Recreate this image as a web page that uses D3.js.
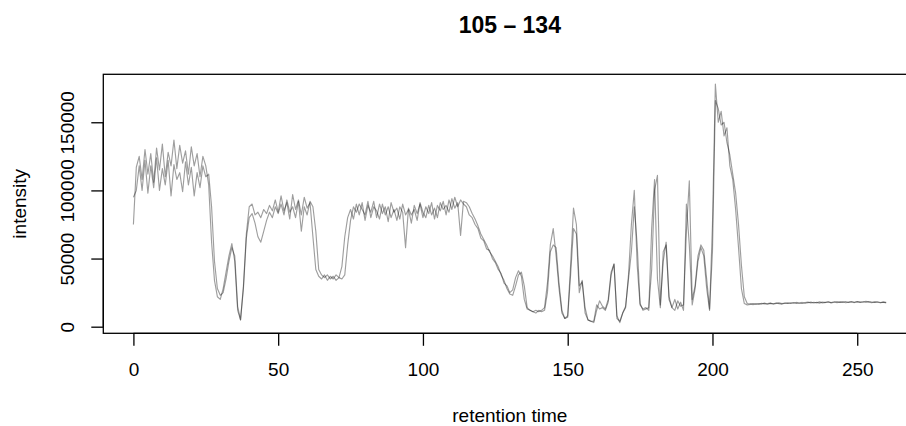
<!DOCTYPE html>
<meta charset="utf-8">
<script src="https://d3js.org/d3.v7.min.js"></script>
<style>
  body { margin: 0; background: #fff; }
  text { font-family: "Liberation Sans", Arial, sans-serif; }
</style>
<div id="chart"></div>
<script>

// retention time runs 0..260, one sample per unit
var rtStart = 0, rtEnd = 260;

// intensity of the two overlaid chromatograms
var traceA = [
  75000,117000,125000,108000,130000,112000,127000,106000,131000,115000,
  134000,110000,128000,118000,137000,116000,133000,120000,129000,112000,
  132000,118000,127000,110000,125000,118000,104000,62000,34000,22000,
  20000,28000,40000,52000,61000,48000,12000,5000,30000,68000,
  88000,90000,82000,84000,80000,86000,83000,89000,85000,93000,
  84000,96000,85000,91000,79000,97000,86000,93000,82000,95000,
  87000,91000,66000,42000,37000,35000,38000,34000,37000,35000,
  38000,36000,44000,66000,80000,86000,79000,90000,82000,91000,
  78000,89000,84000,92000,80000,90000,83000,88000,77000,91000,
  84000,87000,79000,90000,82000,86000,76000,89000,83000,90000,
  80000,88000,83000,91000,79000,89000,85000,92000,82000,93000,
  86000,95000,88000,93000,90000,88000,82000,80000,75000,72000,
  65000,63000,57000,56000,50000,47000,42000,39000,32000,30000,
  25000,27000,36000,41000,37000,20000,13000,12000,11000,12000,
  11000,12000,14000,32000,60000,72000,52000,28000,10000,6000,
  8000,45000,87000,75000,30000,33000,14000,5000,4000,3000,
  12000,19000,15000,13000,20000,40000,46000,8000,3000,10000,
  14000,38000,75000,100000,45000,16000,13000,14000,12000,72000,
  108000,35000,14000,55000,60000,20000,14000,20000,13000,18000,
  12000,90000,60000,16000,28000,48000,58000,52000,28000,12000,
  75000,178000,150000,158000,140000,146000,118000,108000,86000,58000,
  28000,17000,16000,
  16400,17000,16300,16900,16600,17300,16500,17100,16800,17400,
  16900,16600,17200,17500,17000,17700,17100,17400,17800,17200,
  17600,18000,17400,17800,17300,18100,17700,18300,17500,17900,
  18400,17800,18200,17600,18000,18500,17900,18300,17800,18100,
  18600,18000,17700,18200,17900,17600,18000,17500
];

var traceB = [
  95000,100000,118000,100000,122000,98000,118000,102000,124000,100000,
  116000,104000,122000,96000,119000,108000,113000,99000,121000,104000,
  117000,96000,113000,102000,118000,110000,112000,88000,48000,28000,
  23000,25000,35000,48000,58000,52000,15000,5000,28000,65000,
  80000,83000,76000,66000,62000,70000,78000,84000,80000,88000,
  83000,90000,82000,93000,84000,88000,80000,92000,70000,88000,
  82000,92000,88000,70000,42000,38000,36000,38000,35000,37000,
  34000,36000,35000,38000,60000,78000,88000,84000,90000,86000,
  82000,92000,80000,88000,85000,79000,90000,82000,88000,80000,
  86000,78000,88000,84000,58000,87000,82000,86000,78000,91000,
  84000,80000,89000,82000,87000,80000,91000,86000,89000,84000,
  94000,87000,91000,67000,92000,91000,88000,83000,79000,74000,
  68000,64000,60000,55000,52000,48000,44000,38000,34000,28000,
  24000,23000,30000,38000,40000,30000,14000,12000,11000,10000,
  12000,11000,12000,25000,55000,60000,58000,32000,12000,6000,
  7000,38000,72000,68000,25000,34000,10000,5000,4000,4000,
  16000,13000,14000,12000,18000,38000,46000,6000,4000,10000,
  15000,35000,55000,88000,60000,17000,12000,13000,14000,42000,
  100000,111000,16000,48000,62000,22000,14000,12000,19000,15000,
  16000,70000,107000,20000,30000,52000,60000,56000,35000,13000,
  55000,166000,160000,148000,150000,135000,126000,112000,98000,75000,
  45000,22000,17000,
  16800,16200,17000,16500,17200,16700,16900,17300,16600,17100,
  17500,16900,17400,17000,17600,17200,17800,17300,17000,17700,
  18000,17400,17900,17600,18200,17500,17800,18100,17700,18300,
  17600,18200,17900,18500,17800,18100,17700,18400,18000,18300,
  17900,18500,18100,17800,18300,17700,18000,17800
];

var xTicks = [0, 50, 100, 150, 200, 250];
var yTicks = [0, 50000, 100000, 150000];
var title = "105 \u2013 134";
var xLabel = "retention time";
var yLabel = "intensity";

var width = 906, height = 426;
// plot region (the R device was cut off on the right)
var plotLeft = 103.3, plotTop = 74.3, plotW = 813, plotH = 259;
var plotBottom = plotTop + plotH;

var rt = d3.range(rtStart, rtEnd + 1);

var svg = d3.select("#chart")
  .append("svg")
    .attr("width", width)
    .attr("height", height);

// R style axes: data range padded by 4% on each side
var ext = d3.extent(rt), pad = (ext[1] - ext[0]) * 0.04;
var x = d3.scaleLinear()
  .domain([ext[0] - pad, ext[1] + pad])
  .range([plotLeft, plotLeft + plotW]);

var y = d3.scaleLinear()
  .domain([-4850, 185200])
  .range([plotBottom, plotTop]);

svg.append("clipPath").attr("id", "clip")
  .append("rect")
    .attr("x", plotLeft).attr("y", plotTop)
    .attr("width", plotW).attr("height", plotH);

var line = d3.line()
  .x(function(d, i) { return x(rt[i]); })
  .y(function(d) { return y(d); });

[traceA, traceB].forEach(function(tr) {
  svg.append("path")
    .datum(tr)
    .attr("clip-path", "url(#clip)")
    .attr("d", line)
    .attr("fill", "none")
    .attr("stroke", "rgba(0,0,0,0.38)")
    .attr("stroke-width", 1.15)
    .attr("stroke-linejoin", "round");
});

// box
svg.append("rect")
  .attr("x", plotLeft).attr("y", plotTop)
  .attr("width", plotW).attr("height", plotH)
  .attr("fill", "none")
  .attr("stroke", "#000")
  .attr("stroke-width", 1.3);

// x axis
var gx = svg.append("g")
  .attr("transform", "translate(0," + plotBottom + ")")
  .call(d3.axisBottom(x).tickValues(xTicks).tickSize(12.5).tickPadding(17).tickSizeOuter(0));
gx.select(".domain").remove();
gx.append("line")
  .attr("x1", x(xTicks[0])).attr("x2", x(xTicks[xTicks.length - 1]))
  .attr("stroke", "#000").attr("stroke-width", 1.3);
gx.selectAll(".tick line").attr("stroke", "#000").attr("stroke-width", 1.3);
gx.selectAll("text")
  .attr("fill", "#000")
  .style("font-size", "19px")
  .style("font-family", "'Liberation Sans', Arial, sans-serif");

// y axis, labels rotated like R's las = 0
var gy = svg.append("g")
  .attr("transform", "translate(" + plotLeft + ",0)")
  .call(d3.axisLeft(y).tickValues(yTicks).tickSize(12).tickSizeOuter(0).tickFormat(d3.format("d")));
gy.select(".domain").remove();
gy.append("line")
  .attr("y1", y(yTicks[0])).attr("y2", y(yTicks[yTicks.length - 1]))
  .attr("stroke", "#000").attr("stroke-width", 1.3);
gy.selectAll(".tick line").attr("stroke", "#000").attr("stroke-width", 1.3);
gy.selectAll("text")
  .attr("fill", "#000")
  .attr("transform", "rotate(-90)")
  .attr("x", 0)
  .attr("y", -(plotLeft - 66.7))
  .attr("dy", "0.36em")
  .attr("text-anchor", "middle")
  .style("font-size", "19px")
  .style("font-family", "'Liberation Sans', Arial, sans-serif");

var midX = plotLeft + plotW / 2;

svg.append("text")
  .attr("x", midX).attr("y", 33)
  .attr("text-anchor", "middle")
  .style("font-size", "23px")
  .style("font-weight", "bold")
  .text(title);

svg.append("text")
  .attr("x", midX).attr("y", 422)
  .attr("text-anchor", "middle")
  .style("font-size", "19px")
  .text(xLabel);

svg.append("text")
  .attr("transform", "translate(25.5," + (plotTop + plotH / 2) + ") rotate(-90)")
  .attr("text-anchor", "middle")
  .style("font-size", "19px")
  .text(yLabel);

</script>
